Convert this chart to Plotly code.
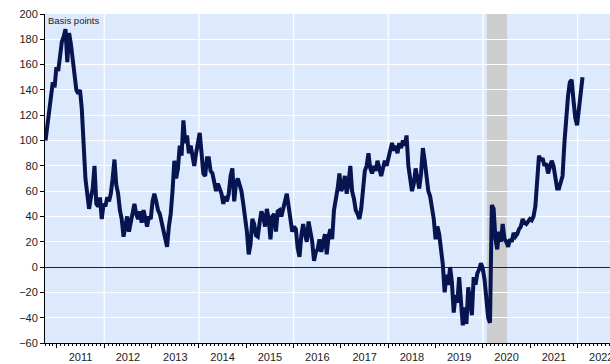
import pandas as pd
import plotly.graph_objects as go

# Spread in basis points, sampled every 14 days starting 2010-10-05
start_date = "2010-10-05"
step = "14D"
spread_bp = [
    100, 112, 128, 140, 146, 142, 158, 155, 165, 178,
    182, 188, 162, 185, 176, 165, 152, 140, 137, 140,
    125, 95, 70, 58, 46, 55, 62, 80, 50, 48,
    55, 38, 50, 48, 55, 52, 58, 70, 85, 65,
    58, 45, 38, 24, 35, 40, 28, 36, 40, 50,
    42, 38, 44, 35, 45, 36, 32, 40, 38, 52,
    58, 52, 45, 42, 35, 28, 22, 16, 32, 42,
    60, 84, 70, 78, 96, 88, 116, 98, 104, 90,
    96, 85, 80, 90, 98, 106, 90, 74, 72, 86,
    86, 76, 74, 68, 60, 66, 62, 58, 50, 56,
    52, 58, 72, 78, 52, 66, 70, 66, 60, 50,
    40, 28, 10, 18, 38, 34, 25, 24, 35, 44,
    40, 32, 46, 38, 22, 40, 42, 28, 44, 45,
    40, 48, 52, 58, 46, 40, 28, 32, 30, 15,
    8, 25, 34, 26, 20, 36, 28, 20, 5, 12,
    14, 22, 12, 18, 26, 10, 24, 30, 22, 45,
    52, 62, 74, 60, 64, 72, 58, 66, 80, 60,
    54, 45, 42, 38, 46, 58, 76, 80, 90, 78,
    74, 80, 76, 84, 76, 72, 78, 84, 80, 86,
    90, 98, 92, 96, 90, 98, 94, 100, 96, 104,
    80, 70, 60, 66, 78, 70, 62, 74, 94, 84,
    70, 60, 56, 46, 38, 22, 32, 26, 14, 2,
    -20, -6, -14, 0, -12, -36, -22, -28, -8, -30,
    -46, -32, -45, -16, -30, -38, -8, -14, -5, -2,
    3, -1, -10, -28, -40, -44, 49, 46, 22, 14,
    28, 20, 34, 22, 20, 16, 22, 20, 27, 24,
    26, 30, 32, 38, 35, 34, 36, 38, 37, 40,
    48, 70, 88, 84, 86, 80, 82, 74, 80, 84,
    80, 70, 62, 62, 68, 72, 98, 118, 135, 146,
    148, 132, 118, 112, 124, 138, 150,
]
dates = pd.date_range(start=start_date, periods=len(spread_bp), freq=step)

# Shaded recession period
recession = ("2020-02-01", "2020-07-05")
grid_years = list(range(2012, 2023, 2))
x_range = ["2010-10-01", "2022-09-08"]
y_range = [-60, 200]

BG = "#dde9fc"
LINE = "#061550"
FONT = "Arial, Liberation Sans, sans-serif"

fig = go.Figure()
fig.add_trace(go.Scatter(
    x=dates, y=spread_bp, mode="lines",
    line=dict(color=LINE, width=4),
    hoverinfo="skip", showlegend=False,
))

shapes = [dict(
    type="rect", xref="x", yref="paper",
    x0=recession[0], x1=recession[1], y0=0, y1=1,
    fillcolor="#cdcdcd", line=dict(width=0), layer="below",
)]
for yr in grid_years:
    shapes.append(dict(
        type="line", xref="x", yref="paper",
        x0=f"{yr}-01-01", x1=f"{yr}-01-01", y0=0, y1=1,
        line=dict(color="white", width=1.3), layer="below",
    ))

fig.update_layout(
    width=610, height=364,
    margin=dict(l=45, r=0, t=14, b=21, autoexpand=False),
    paper_bgcolor="white", plot_bgcolor=BG,
    font=dict(family=FONT, size=11, color="#222222"),
    shapes=shapes,
    annotations=[dict(
        text="Basis points", xref="paper", yref="paper",
        x=0, y=1, xanchor="left", yanchor="top",
        xshift=1, yshift=1, showarrow=False,
        font=dict(family=FONT, size=9.5, color="#222222"),
    )],
)

fig.update_xaxes(
    type="date", range=x_range, automargin=False,
    tick0="2011-01-01", dtick="M12", tickformat="%Y",
    ticklabelmode="period", ticklabeloverflow="allow",
    ticks="outside", ticklen=4, tickwidth=1, tickcolor="black",
    showline=True, linecolor="black", linewidth=1,
    showgrid=False, zeroline=False,
    minor=dict(dtick="M1", ticks="outside", ticklen=2,
               tickcolor="black", tickwidth=1, showgrid=False),
    tickfont=dict(family=FONT, size=11, color="#222222"),
)
fig.update_yaxes(
    range=y_range, dtick=20, tick0=0, automargin=False,
    ticks="outside", ticklen=4, tickwidth=1, tickcolor="black",
    showline=True, linecolor="black", linewidth=1,
    showgrid=True, gridcolor="white", gridwidth=1.3,
    zeroline=True, zerolinecolor="#222222", zerolinewidth=1,
    tickfont=dict(family=FONT, size=11, color="#222222"),
)

fig.write_html("out.html")
